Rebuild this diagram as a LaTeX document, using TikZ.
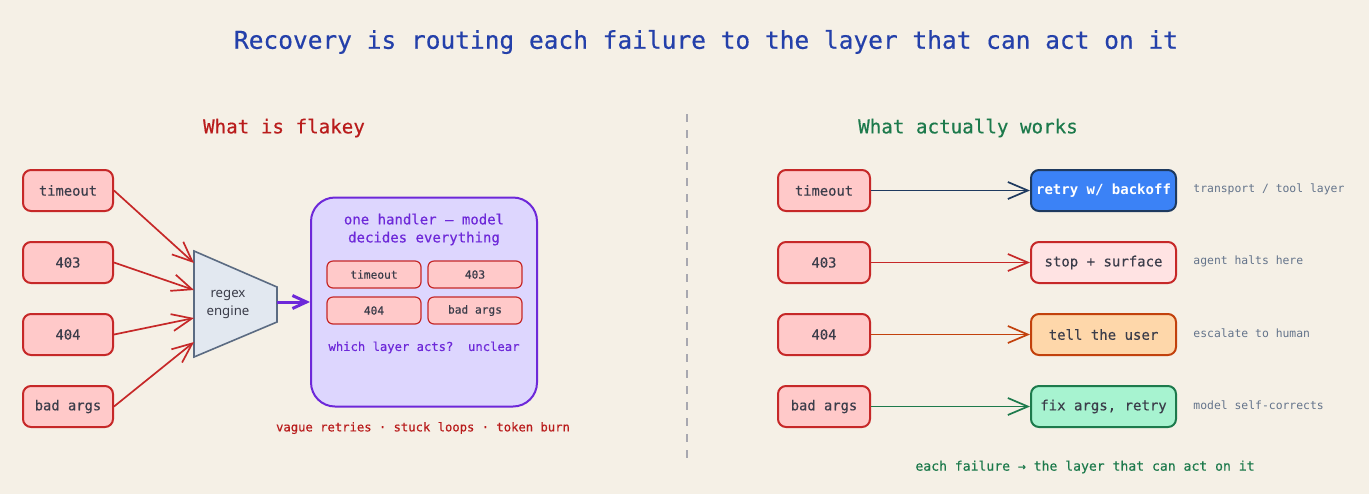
\documentclass[tikz,border=0pt]{standalone}
\usepackage{fontspec}
\setmonofont{DejaVu Sans Mono}
\setsansfont{Noto Sans}
\newfontfamily\medmono[FakeBold=0.4]{DejaVu Sans Mono}
\usetikzlibrary{arrows.meta,calc}
\definecolor{bg}{HTML}{F5F0E6}
\definecolor{ink}{HTML}{3B3D4A}
\definecolor{errfill}{HTML}{FFC9C9}
\definecolor{errline}{HTML}{C62828}
\definecolor{titleblue}{HTML}{2440AA}
\definecolor{flakey}{HTML}{B91C1C}
\definecolor{works}{HTML}{1D7A4C}
\definecolor{trapfill}{HTML}{E2E8F0}
\definecolor{trapline}{HTML}{5B6B82}
\definecolor{hfill}{HTML}{DDD6FE}
\definecolor{hline}{HTML}{6D28D9}
\definecolor{navy}{HTML}{1E3A5F}
\definecolor{bluefill}{HTML}{3B82F6}
\definecolor{stopfill}{HTML}{FFE3E3}
\definecolor{tellfill}{HTML}{FED7AA}
\definecolor{tellline}{HTML}{C2410C}
\definecolor{fixfill}{HTML}{A7F3D0}
\definecolor{note}{HTML}{64748B}
\definecolor{divider}{HTML}{A8A8B0}
\begin{document}
\begin{tikzpicture}[x=0.5pt,y=-0.5pt,>={Straight Barb[length=10pt,width=8.5pt]},font=\ttfamily]
\tikzstyle{err}=[draw=errline,fill=errfill,line width=1pt,rounded corners=4pt,minimum width=45pt,minimum height=20.5pt,inner sep=0pt,text=ink,font=\medmono\fontsize{6.9}{8}\selectfont]
\tikzstyle{small}=[draw=errline,fill=errfill,line width=0.6pt,rounded corners=3pt,minimum width=47pt,minimum height=13.5pt,inner sep=0pt,text=ink,font=\medmono\fontsize{5.6}{7}\selectfont]
\tikzstyle{fix}=[line width=1pt,rounded corners=4pt,minimum width=72.5pt,minimum height=20.5pt,inner sep=0pt,text=ink,font=\medmono\fontsize{7}{8}\selectfont]
\tikzstyle{fixblue}=[fix,draw=navy,fill=bluefill,text=white,font=\ttfamily\bfseries\fontsize{7}{8}\selectfont]
\tikzstyle{fixstop}=[fix,draw=errline,fill=stopfill]
\tikzstyle{fixtell}=[fix,draw=tellline,fill=tellfill]
\tikzstyle{fixargs}=[fix,draw=works,fill=fixfill]
\tikzstyle{side}=[anchor=west,inner sep=0pt,text=note,font=\ttfamily\fontsize{5.7}{7}\selectfont]
\fill[bg] (0,0) rectangle (1369,494);
\useasboundingbox (0,0) rectangle (1369,494);
% headings
\node[text=titleblue,font=\medmono\fontsize{12.25}{14}\selectfont] (title) at (706,42) {Recovery is routing each failure to the layer that can act on it};
\node[text=flakey,font=\medmono\fontsize{9.6}{11}\selectfont] (hl) at (284,128) {What is flakey};
\node[text=works,font=\medmono\fontsize{9.6}{11}\selectfont] (hr) at (968,128) {What actually works};
\coordinate (dtop) at (687,114); \coordinate (dbot) at (687,458);
\draw[divider,line width=1pt,dash pattern=on 4pt off 4pt] (dtop) -- (dbot);
% left: everything into one regex
\draw[draw=trapline,fill=trapfill,line width=0.8pt] (194,251) -- (277,287) -- (277,322) -- (194,357) -- cycle;
\node[align=center,text=ink,font=\sffamily\fontsize{6.6}{9}\selectfont] (rx) at (228,304) {regex\\engine};
\foreach \i/\n/\y/\e in {0/timeout/190.5/263,1/403/262.5/290,2/404/334.5/318,3/{bad args}/406.5/342} { \node[err] (f\i) at (68,\y) {\n}; \coordinate (in\i) at (194,\e); \draw[->,errline,line width=0.85pt] (f\i.east) -- (in\i); }
\node[draw=hline,fill=hfill,line width=1pt,rounded corners=12pt,minimum width=113pt,minimum height=104.5pt] (hd) at (424,302) {};
\node[align=center,text=hline,font=\medmono\fontsize{7}{9}\selectfont] (hdt) at (424,229.5) {one handler — model\\decides everything};
\foreach \i/\n/\x/\y in {0/timeout/374/274.5,1/403/475/274.5,2/404/374/310.5,3/{bad args}/475/310.5} { \node[small] (s\i) at (\x,\y) {\n}; }
\node[text=hline,font=\medmono\fontsize{6.1}{7}\selectfont] (hdq) at (424,347.5) {which layer acts?\ \ unclear};
\coordinate (rxo) at (277,302);
\draw[->,hline,line width=1.5pt,>={Straight Barb[length=7pt,width=6.5pt]}] (rxo) -- (hd.west);
\node[text=flakey,font=\medmono\fontsize{6.1}{7}\selectfont] (vague) at (423,428) {vague retries · stuck loops · token burn};
% right: each failure to its own layer
\foreach \i/\n/\st/\t/\c/\s/\y in {0/timeout/fixblue/{retry w/ backoff}/navy/{transport / tool layer}/190.5,1/403/fixstop/{stop + surface}/errline/{agent halts here}/262.5,2/404/fixtell/{tell the user}/tellline/{escalate to human}/334.5,3/{bad args}/fixargs/{fix args, retry}/works/{model self-corrects}/406.5} { \node[err,minimum width=46pt] (w\i) at (824,\y) {\n}; \node[\st] (x\i) at (1103.5,\y) {\t}; \node[side] (n\i) at (1193,\y-1.5) {\s}; \draw[->,\c,line width=0.85pt] (w\i.east) -- (x\i.west); }
\node[text=works,font=\medmono\fontsize{6.55}{8}\selectfont] (each) at (1085,467) {each failure → the layer that can act on it};
\end{tikzpicture}
\end{document}
